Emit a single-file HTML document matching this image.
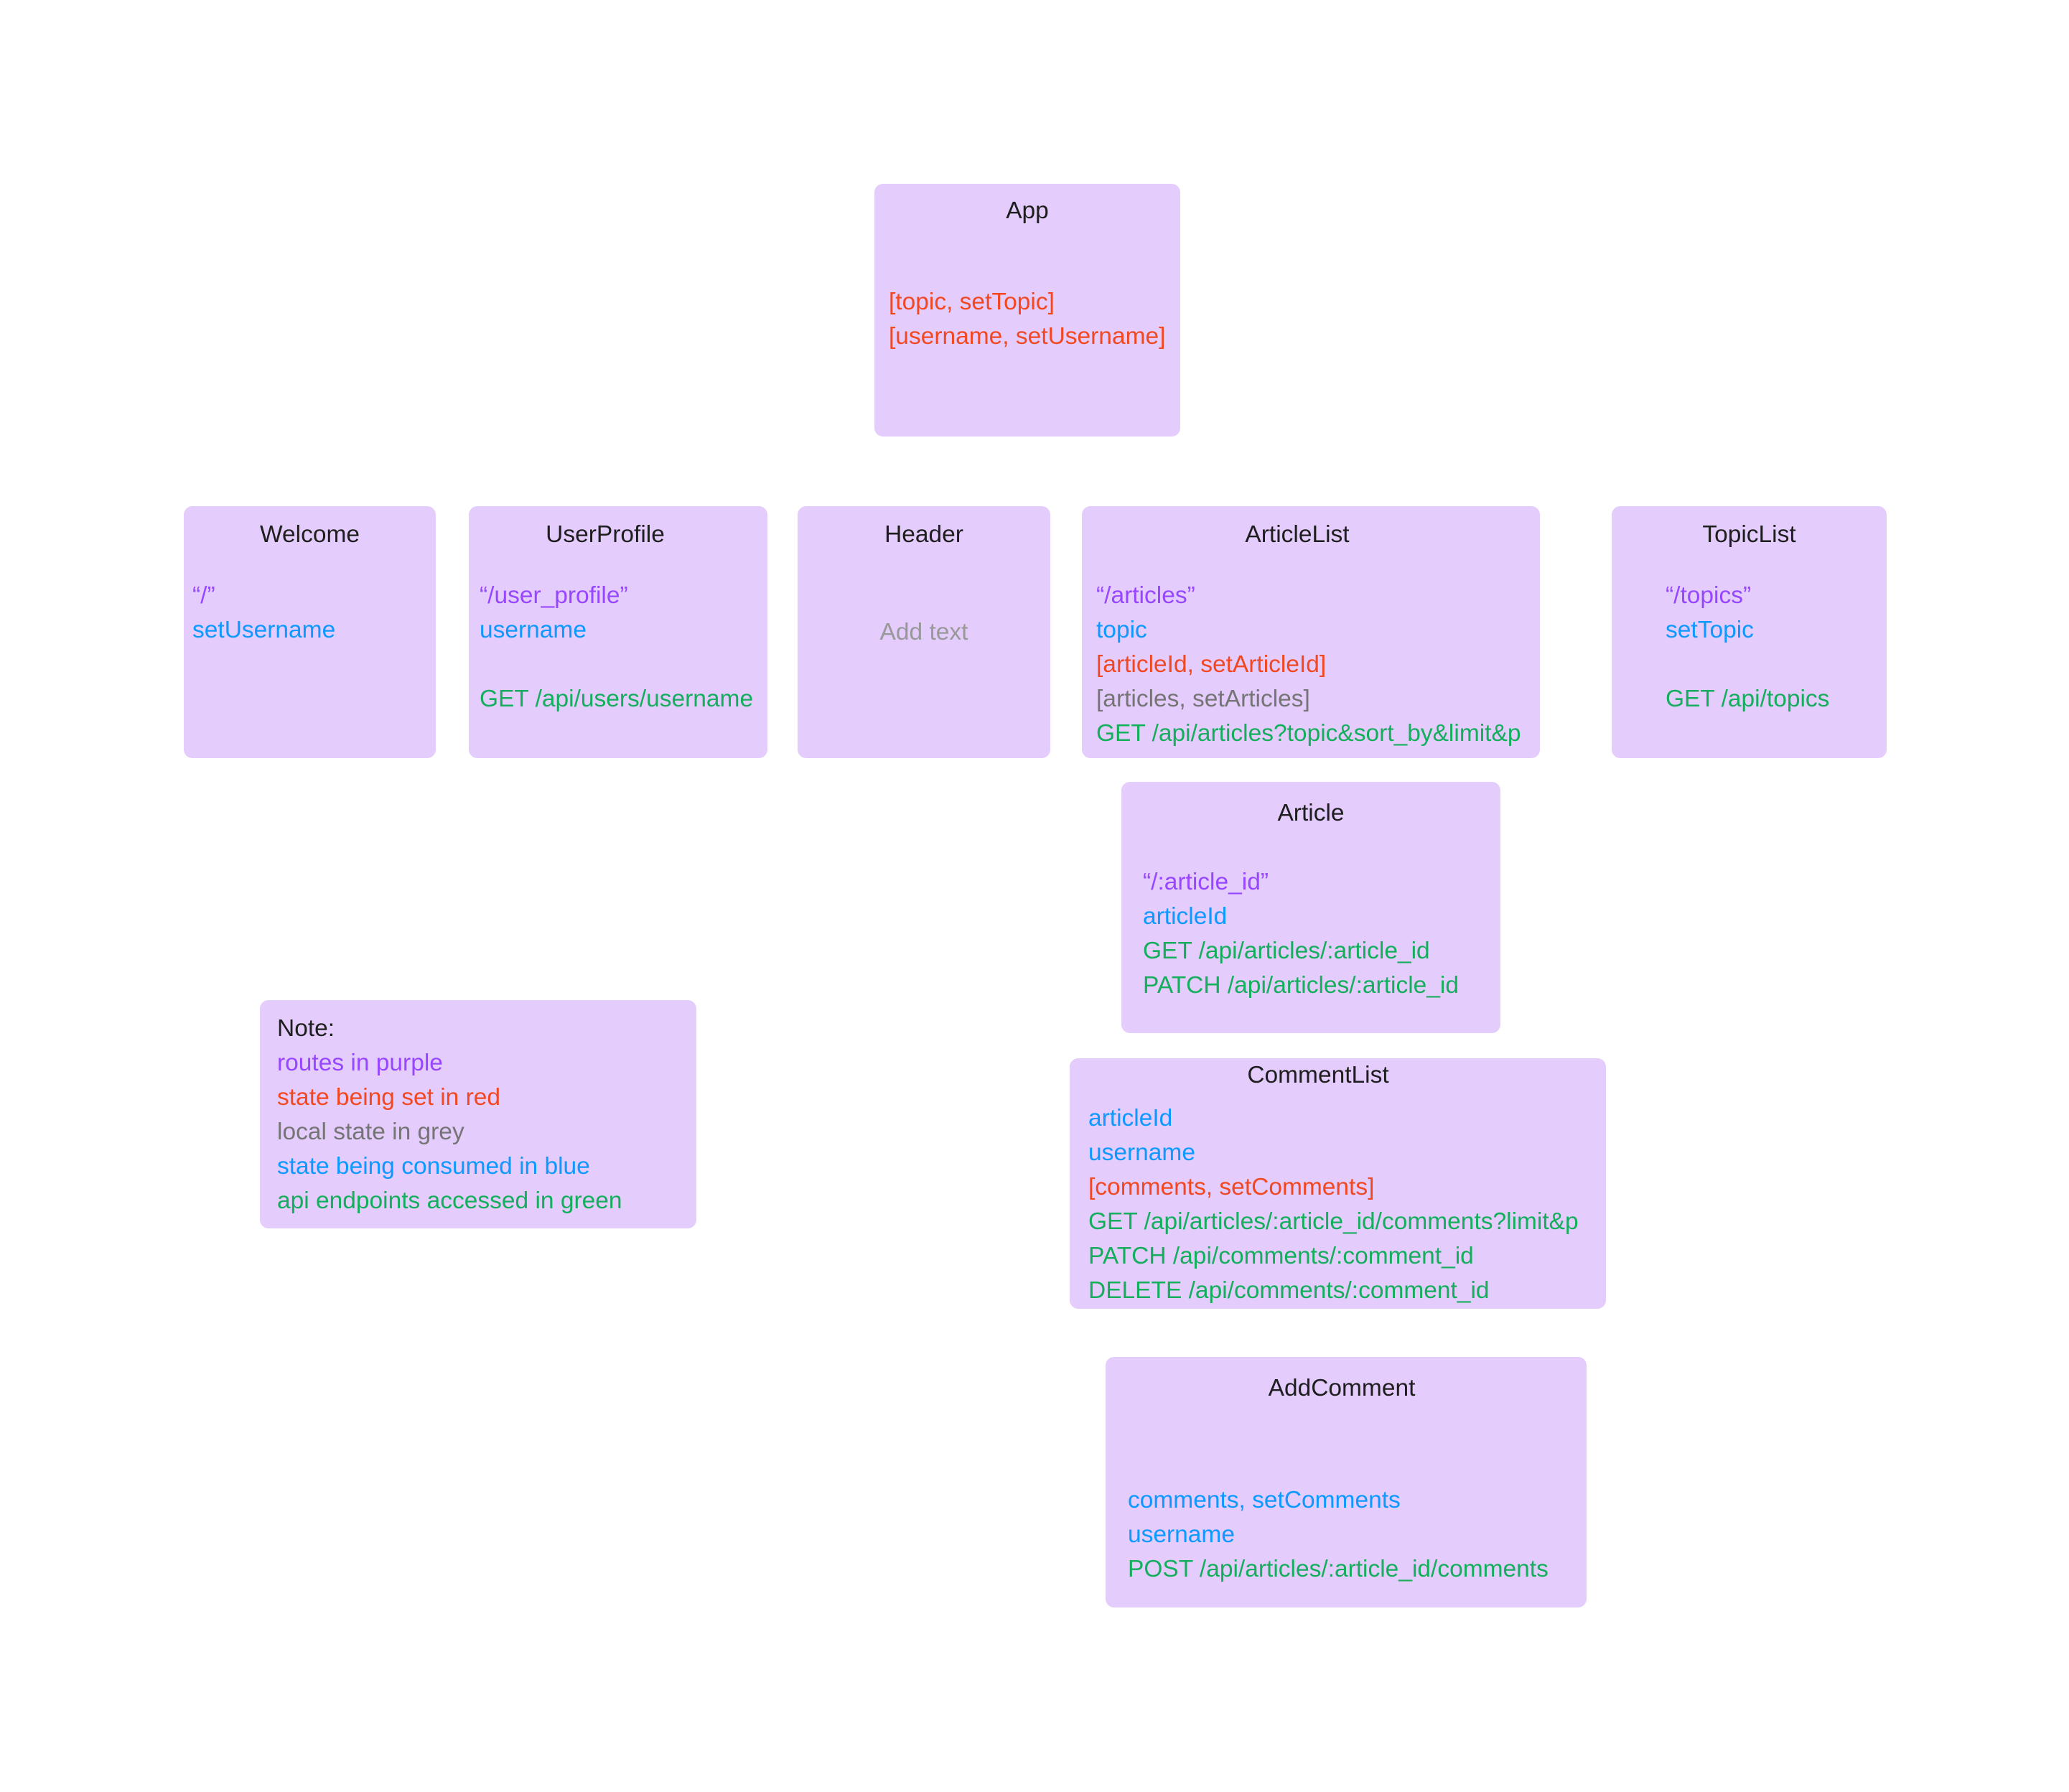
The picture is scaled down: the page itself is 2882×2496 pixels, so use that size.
<!DOCTYPE html>
<html><head><meta charset="utf-8"><style>
html,body{margin:0;padding:0;background:#fff;}
body{width:2882px;height:2496px;position:relative;overflow:hidden;font-family:"Liberation Sans",sans-serif;font-size:33.5px;}
.b{position:absolute;background:#E4CCFD;border-radius:12px;}
.t{position:absolute;line-height:48px;white-space:nowrap;}
.h{color:#1e1e1e;text-align:center;}
.p{color:#9747FF}.r{color:#F24822}.u{color:#0D99FF}.g{color:#14AE5C}.k{color:#757575}.a{color:#999}.n{color:#1e1e1e}
</style></head><body>
<div class="b" style="left:1218px;top:256px;width:426px;height:352px"></div>
<div class="t h" style="left:1218px;width:426px;top:270px">App</div>
<div class="t r" style="left:1238px;top:397px">[topic, setTopic]</div>
<div class="t r" style="left:1238px;top:445px">[username, setUsername]</div>

<div class="b" style="left:256px;top:705px;width:351px;height:351px"></div>
<div class="t h" style="left:256px;width:351px;top:721px">Welcome</div>
<div class="t p" style="left:268px;top:806px">“/”</div>
<div class="t u" style="left:268px;top:854px">setUsername</div>

<div class="b" style="left:653px;top:705px;width:416px;height:351px"></div>
<div class="t h" style="left:653px;width:380px;top:721px">UserProfile</div>
<div class="t p" style="left:668px;top:806px">“/user_profile”</div>
<div class="t u" style="left:668px;top:854px">username</div>
<div class="t g" style="left:668px;top:950px">GET /api/users/username</div>

<div class="b" style="left:1111px;top:705px;width:352px;height:351px"></div>
<div class="t h" style="left:1111px;width:352px;top:721px">Header</div>
<div class="t a" style="left:1111px;width:352px;text-align:center;top:857px">Add text</div>

<div class="b" style="left:1507px;top:705px;width:638px;height:351px"></div>
<div class="t h" style="left:1507px;width:600px;top:721px">ArticleList</div>
<div class="t p" style="left:1527px;top:806px">“/articles”</div>
<div class="t u" style="left:1527px;top:854px">topic</div>
<div class="t r" style="left:1527px;top:902px">[articleId, setArticleId]</div>
<div class="t k" style="left:1527px;top:950px">[articles, setArticles]</div>
<div class="t g" style="left:1527px;top:998px">GET /api/articles?topic&amp;sort_by&amp;limit&amp;p</div>

<div class="b" style="left:2245px;top:705px;width:383px;height:351px"></div>
<div class="t h" style="left:2245px;width:383px;top:721px">TopicList</div>
<div class="t p" style="left:2320px;top:806px">“/topics”</div>
<div class="t u" style="left:2320px;top:854px">setTopic</div>
<div class="t g" style="left:2320px;top:950px">GET /api/topics</div>

<div class="b" style="left:1562px;top:1089px;width:528px;height:350px"></div>
<div class="t h" style="left:1562px;width:528px;top:1109px">Article</div>
<div class="t p" style="left:1592px;top:1205px">“/:article_id”</div>
<div class="t u" style="left:1592px;top:1253px">articleId</div>
<div class="t g" style="left:1592px;top:1301px">GET /api/articles/:article_id</div>
<div class="t g" style="left:1592px;top:1349px">PATCH /api/articles/:article_id</div>

<div class="b" style="left:362px;top:1393px;width:608px;height:318px"></div>
<div class="t n" style="left:386px;top:1409px">Note:</div>
<div class="t p" style="left:386px;top:1457px">routes in purple</div>
<div class="t r" style="left:386px;top:1505px">state being set in red</div>
<div class="t k" style="left:386px;top:1553px">local state in grey</div>
<div class="t u" style="left:386px;top:1601px">state being consumed in blue</div>
<div class="t g" style="left:386px;top:1649px">api endpoints accessed in green</div>

<div class="b" style="left:1490px;top:1474px;width:747px;height:349px"></div>
<div class="t h" style="left:1490px;width:692px;top:1474px">CommentList</div>
<div class="t u" style="left:1516px;top:1534px">articleId</div>
<div class="t u" style="left:1516px;top:1582px">username</div>
<div class="t r" style="left:1516px;top:1630px">[comments, setComments]</div>
<div class="t g" style="left:1516px;top:1678px">GET /api/articles/:article_id/comments?limit&amp;p</div>
<div class="t g" style="left:1516px;top:1726px">PATCH /api/comments/:comment_id</div>
<div class="t g" style="left:1516px;top:1774px">DELETE /api/comments/:comment_id</div>

<div class="b" style="left:1540px;top:1890px;width:670px;height:349px"></div>
<div class="t h" style="left:1540px;width:658px;top:1910px">AddComment</div>
<div class="t u" style="left:1571px;top:2066px">comments, setComments</div>
<div class="t u" style="left:1571px;top:2114px">username</div>
<div class="t g" style="left:1571px;top:2162px">POST /api/articles/:article_id/comments</div>
</body></html>
